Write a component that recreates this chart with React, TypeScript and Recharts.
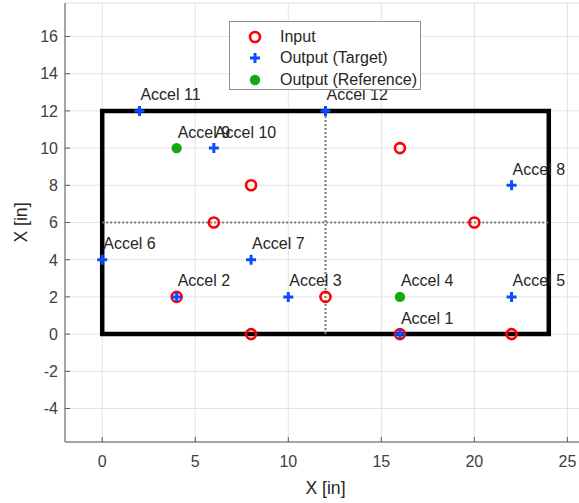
import { ScatterChart, Scatter, XAxis, YAxis, CartesianGrid, Legend } from 'recharts';

const FONT = '"Liberation Sans", Arial, Helvetica, sans-serif';
const RED = '#ff0000';
const BLUE = '#0a4dff';
const GREEN = '#12a912';
const AXIS = '#5a5a5a';
const TEXT = '#262626';

const xTicks = [0, 5, 10, 15, 20, 25];
const yTicks = [-4, -2, 0, 2, 4, 6, 8, 10, 12, 14, 16];

// plate outline and its centre lines, inches
const plateOutline = [
    { x: 0, y: 0 },
    { x: 24, y: 0 },
    { x: 24, y: 12 },
    { x: 0, y: 12 },
    { x: 0, y: 0 },
];
const centreLineH = [
    { x: 0, y: 6 },
    { x: 24, y: 6 },
];
const centreLineV = [
    { x: 12, y: 0 },
    { x: 12, y: 12 },
];

const inputPoints = [
    { x: 6, y: 6 },
    { x: 8, y: 8 },
    { x: 16, y: 10 },
    { x: 20, y: 6 },
    { x: 4, y: 2 },
    { x: 12, y: 2 },
    { x: 8, y: 0 },
    { x: 16, y: 0 },
    { x: 22, y: 0 },
];

const targetPoints = [
    { name: 'Accel 1', x: 16, y: 0 },
    { name: 'Accel 2', x: 4, y: 2 },
    { name: 'Accel 3', x: 10, y: 2 },
    { name: 'Accel 5', x: 22, y: 2 },
    { name: 'Accel 6', x: 0, y: 4 },
    { name: 'Accel 7', x: 8, y: 4 },
    { name: 'Accel 8', x: 22, y: 8 },
    { name: 'Accel 10', x: 6, y: 10 },
    { name: 'Accel 11', x: 2, y: 12 },
    { name: 'Accel 12', x: 12, y: 12 },
];

const referencePoints = [
    { name: 'Accel 4', x: 16, y: 2 },
    { name: 'Accel 9', x: 4, y: 10 },
];

const legendLabels = ['Input', 'Output (Target)', 'Output (Reference)'];

const Ring = ({ cx, cy }: any) => (
    <circle cx={cx} cy={cy} r={5} fill='none' stroke={RED} strokeWidth={2.6} />
);
const Plus = ({ cx, cy }: any) => (
    <path
        d={`M${cx - 5},${cy}H${cx + 5}M${cx},${cy - 5}V${cy + 5}`}
        stroke={BLUE}
        strokeWidth={3}
        fill='none'
    />
);
const Dot = ({ cx, cy }: any) => <circle cx={cx} cy={cy} r={5.2} fill={GREEN} />;

const legendMarkers = [Ring, Plus, Dot];

const labelled = (Marker: any) => (props: any) => (
    <g>
        <Marker cx={props.cx} cy={props.cy} />
        <text x={props.cx + 1} y={props.cy - 10.5} fontSize={16} fontFamily={FONT} fill={TEXT}>
            {props.payload.name}
        </text>
    </g>
);

const BottomTick = ({ x, y, payload }: any) => (
    <g>
        <line x1={x} x2={x} y1={y} y2={y - 5} stroke={AXIS} />
        <text x={x} y={y + 25} textAnchor='middle' fontSize={16} fontFamily={FONT} fill='#404040'>
            {payload.value}
        </text>
    </g>
);

const TopTick = ({ x, y }: any) => <line x1={x} x2={x} y1={y} y2={y + 5} stroke={AXIS} />;

const LeftTick = ({ x, y, payload }: any) => (
    <g>
        <line x1={x} x2={x + 5} y1={y} y2={y} stroke={AXIS} />
        <text x={x - 7} y={y + 5.8} textAnchor='end' fontSize={16} fontFamily={FONT} fill='#404040'>
            {payload.value}
        </text>
    </g>
);

const XTitle = ({ viewBox }: any) => (
    <text
        x={viewBox.x + viewBox.width / 2}
        y={viewBox.y + 52}
        textAnchor='middle'
        fontSize={17.6}
        fontFamily={FONT}
        fill={TEXT}
    >
        X [in]
    </text>
);

const YTitle = ({ viewBox }: any) => {
    const cx = 27;
    const cy = viewBox.y + viewBox.height / 2;
    return (
        <text
            x={cx}
            y={cy}
            transform={`rotate(-90, ${cx}, ${cy})`}
            textAnchor='middle'
            fontSize={17.6}
            fontFamily={FONT}
            fill={TEXT}
        >
            X [in]
        </text>
    );
};

const LegendBox = () => (
    <div
        style={{
            width: 192,
            height: 69,
            border: '1px solid #8c8c8c',
            background: '#fff',
            fontFamily: FONT,
            fontSize: 16,
            color: TEXT,
            paddingTop: 4,
            boxSizing: 'border-box',
        }}
    >
        {legendLabels.map((label, i) => {
            const Marker = legendMarkers[i];
            return (
                <div key={label} style={{ display: 'flex', alignItems: 'center', height: 21.6 }}>
                    <svg width={16} height={16} style={{ marginLeft: 17, marginRight: 17 }}>
                        <Marker cx={8} cy={8} />
                    </svg>
                    <span>{label}</span>
                </div>
            );
        })}
    </div>
);

const App = () => {
    return (
        <div
            style={{
                position: 'absolute',
                left: 0,
                top: 0,
                width: 579,
                height: 503,
                overflow: 'hidden',
                background: '#fff',
            }}
        >
            <ScatterChart width={586} height={503} margin={{ top: 3, right: 0, left: 0, bottom: 0 }}>
                <CartesianGrid stroke='#e3e3e3' />
                <XAxis
                    type='number'
                    dataKey='x'
                    domain={[-2, 26]}
                    ticks={xTicks}
                    interval={0}
                    height={61}
                    axisLine={{ stroke: AXIS }}
                    tickLine={false}
                    tickSize={0}
                    tickMargin={0}
                    tick={BottomTick}
                    label={{ content: XTitle }}
                    allowDataOverflow
                />
                <XAxis
                    xAxisId='top'
                    orientation='top'
                    type='number'
                    dataKey='x'
                    domain={[-2, 26]}
                    ticks={xTicks}
                    interval={0}
                    height={0}
                    axisLine={{ stroke: AXIS }}
                    tickLine={false}
                    tickSize={0}
                    tickMargin={0}
                    tick={TopTick}
                    allowDataOverflow
                />
                <YAxis
                    type='number'
                    dataKey='y'
                    domain={[-5.8, 17.8]}
                    ticks={yTicks}
                    interval={0}
                    width={65}
                    axisLine={{ stroke: AXIS }}
                    tickLine={false}
                    tickSize={0}
                    tickMargin={0}
                    tick={LeftTick}
                    label={{ content: YTitle }}
                    allowDataOverflow
                />
                <Legend
                    layout='vertical'
                    align='center'
                    verticalAlign='middle'
                    wrapperStyle={{ left: 229, top: 21, width: 'auto' }}
                    content={() => <LegendBox />}
                />
                <Scatter
                    data={plateOutline}
                    legendType='none'
                    line={{ stroke: '#000', strokeWidth: 4.5, strokeLinecap: 'square', strokeLinejoin: 'miter' }}
                    shape={() => <g />}
                    isAnimationActive={false}
                />
                <Scatter
                    data={centreLineH}
                    legendType='none'
                    line={{ stroke: '#777', strokeWidth: 2, strokeDasharray: '2 2' }}
                    shape={() => <g />}
                    isAnimationActive={false}
                />
                <Scatter
                    data={centreLineV}
                    legendType='none'
                    line={{ stroke: '#777', strokeWidth: 2, strokeDasharray: '2 2' }}
                    shape={() => <g />}
                    isAnimationActive={false}
                />
                <Scatter name='Input' data={inputPoints} shape={Ring} isAnimationActive={false} />
                <Scatter
                    name='Output (Target)'
                    data={targetPoints}
                    shape={labelled(Plus)}
                    isAnimationActive={false}
                />
                <Scatter
                    name='Output (Reference)'
                    data={referencePoints}
                    shape={labelled(Dot)}
                    isAnimationActive={false}
                />
            </ScatterChart>
        </div>
    );
};

export default App;
